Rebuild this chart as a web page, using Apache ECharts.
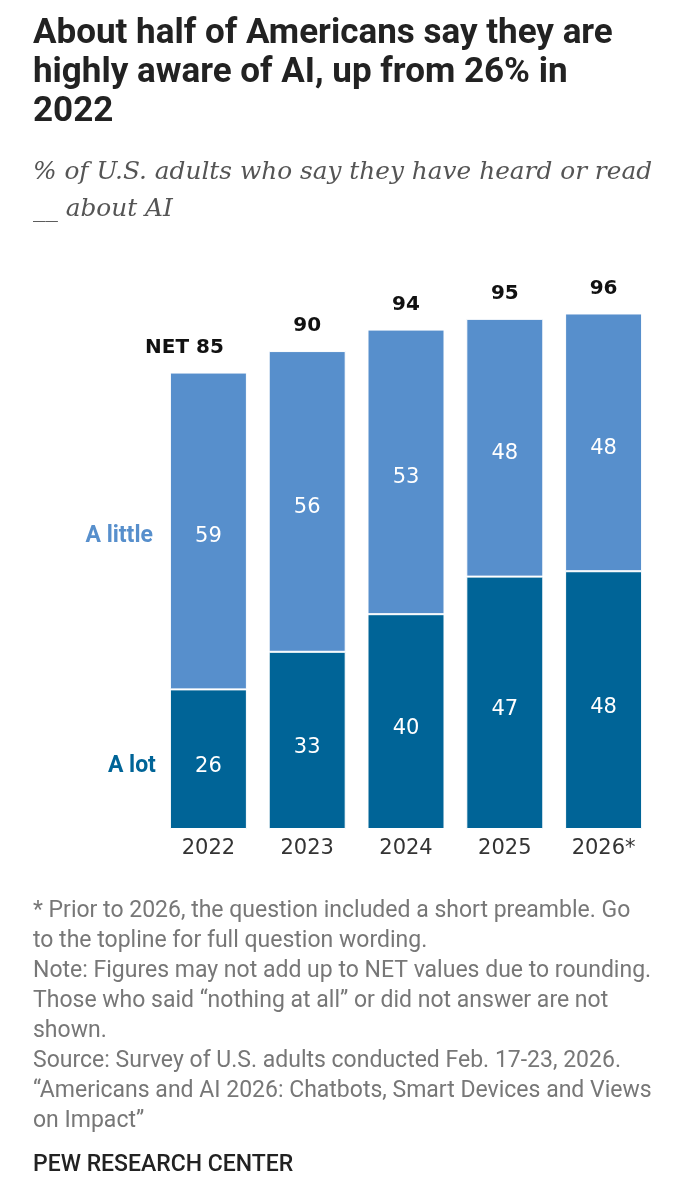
<!DOCTYPE html>
<html>
<head>
<meta charset="utf-8">
<script src="https://cdn.jsdelivr.net/npm/echarts@6/dist/echarts.min.js"></script>
<style>
  html, body { margin: 0; padding: 0; background: #fff; }
  #main { width: 676px; height: 1190px; }
</style>
</head>
<body>
<div id="main"></div>
<script>
var years = ['2022', '2023', '2024', '2025', '2026*'];
var aLot = [26, 33, 40, 47, 48];
var aLittle = [59, 56, 53, 48, 48];
var net = [85, 90, 94, 95, 96];

var sans = 'Roboto, "Liberation Sans", sans-serif';
var digits = '"DejaVu Sans", Roboto, sans-serif';
var lightBlue = '#578fcc';
var darkBlue = '#006497';

var chart = echarts.init(document.getElementById('main'));

var option = {
    animation: false,
    title: [
        {
            text: 'About half of Americans say they are\nhighly aware of AI, up from 26% in\n2022',
            left: 33,
            top: 15,
            padding: 0,
            textStyle: {
                fontFamily: sans,
                fontWeight: 'bold',
                fontSize: 35,
                lineHeight: 39,
                color: '#222'
            }
        },
        {
            text: '% of U.S. adults who say they have heard or read\n__ about AI',
            left: 33,
            top: 154,
            padding: 0,
            textStyle: {
                fontFamily: '"DejaVu Serif", "Liberation Serif", serif',
                fontStyle: 'italic',
                fontWeight: 'normal',
                fontSize: 24.8,
                lineHeight: 37,
                color: '#555'
            }
        },
        {
            text: '* Prior to 2026, the question included a short preamble. Go\nto the topline for full question wording.\nNote: Figures may not add up to NET values due to rounding.\nThose who said \u201cnothing at all\u201d or did not answer are not\nshown.\nSource: Survey of U.S. adults conducted Feb. 17-23, 2026.\n\u201cAmericans and AI 2026: Chatbots, Smart Devices and Views\non Impact\u201d',
            left: 33,
            top: 896,
            padding: 0,
            textStyle: {
                fontFamily: sans,
                fontWeight: 'normal',
                fontSize: 23,
                lineHeight: 30,
                color: '#777'
            }
        },
        {
            text: 'PEW RESEARCH CENTER',
            left: 33,
            top: 1154,
            padding: 0,
            textStyle: {
                fontFamily: sans,
                fontWeight: 500,
                fontSize: 23,
                color: '#222'
            }
        }
    ],
    grid: {
        left: 159,
        right: 23,
        top: 292,
        bottom: 361,
        containLabel: false
    },
    xAxis: {
        type: 'category',
        data: years,
        axisLine: { show: false },
        axisTick: { show: false },
        axisLabel: {
            margin: 9,
            fontFamily: digits,
            fontSize: 21,
            color: '#333'
        }
    },
    yAxis: {
        type: 'value',
        min: 0,
        max: 100,
        show: false
    },
    series: [
        {
            name: 'A lot',
            type: 'bar',
            stack: 'total',
            barWidth: 77,
            data: aLot,
            itemStyle: { color: darkBlue, borderColor: '#fff', borderWidth: 1 },
            label: {
                show: true,
                position: 'inside',
                offset: [0, 7],
                fontFamily: digits,
                fontSize: 21,
                color: '#fff'
            }
        },
        {
            name: 'A little',
            type: 'bar',
            stack: 'total',
            barWidth: 77,
            data: aLittle,
            itemStyle: { color: lightBlue, borderColor: '#fff', borderWidth: 1 },
            label: {
                show: true,
                position: 'inside',
                offset: [0, 6],
                fontFamily: digits,
                fontSize: 21,
                color: '#fff'
            }
        },
        {
            // NET totals placed on top of each stack
            name: 'NET',
            type: 'bar',
            stack: 'total',
            barWidth: 77,
            data: net.map(function () { return 0; }),
            itemStyle: { color: 'rgba(0,0,0,0)' },
            label: {
                show: true,
                position: 'top',
                distance: 15,
                fontFamily: digits,
                fontWeight: 'bold',
                fontSize: 20,
                color: '#111',
                formatter: function (p) {
                    return p.dataIndex === 0 ? 'NET ' + net[0] : String(net[p.dataIndex]);
                }
            }
        }
    ]
};
// 2022 label is pushed left so the number stays over the bar
option.series[2].data[0] = { value: 0, label: { offset: [-24, 0] } };

chart.setOption(option);

// side labels for the two segments, placed from the first bar's position
var lotMid = chart.convertToPixel({ gridIndex: 0 }, [0, aLot[0] / 2]);
var littleMid = chart.convertToPixel({ gridIndex: 0 }, [0, aLot[0] + aLittle[0] / 2]);
var barLeft = lotMid[0] - 77 / 2;
chart.setOption({
    graphic: [
        {
            type: 'text',
            x: barLeft - 17,
            y: littleMid[1] + 5,
            style: {
                text: 'A little',
                align: 'right',
                verticalAlign: 'middle',
                fontFamily: sans,
                fontWeight: 'bold',
                fontSize: 23,
                fill: lightBlue
            }
        },
        {
            type: 'text',
            x: barLeft - 14,
            y: lotMid[1] + 7,
            style: {
                text: 'A lot',
                align: 'right',
                verticalAlign: 'middle',
                fontFamily: sans,
                fontWeight: 'bold',
                fontSize: 23,
                fill: darkBlue
            }
        }
    ]
});
window.onresize = chart.resize;
</script>
</body>
</html>
